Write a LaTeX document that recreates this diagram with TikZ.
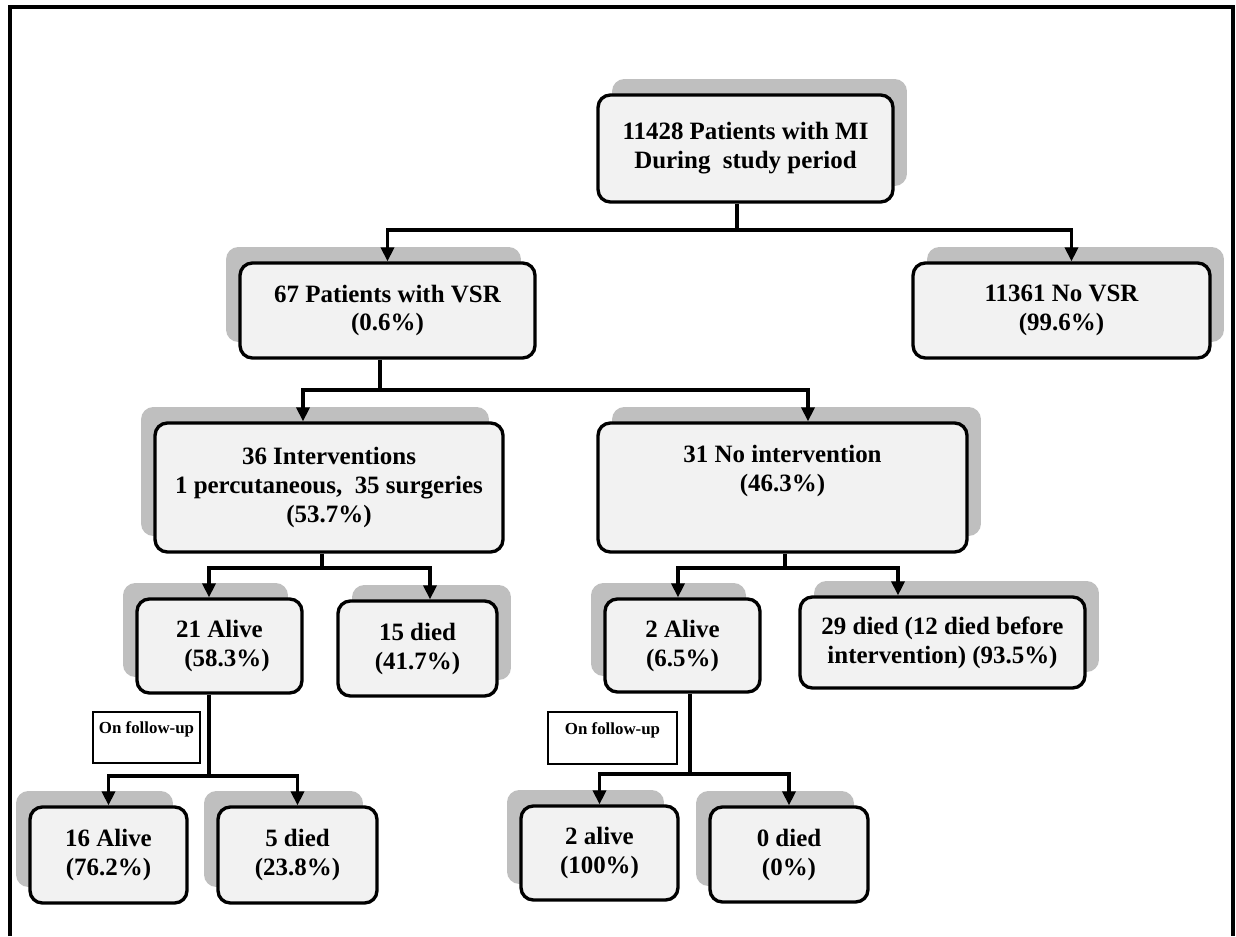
\documentclass[tikz,border=0pt]{standalone}
\usepackage{fontspec}
\setmainfont{Liberation Serif}
\usetikzlibrary{arrows.meta, shadows}
\definecolor{BoxFill}{HTML}{F2F2F2}
\definecolor{ShadowGrey}{HTML}{BFBFBF}

\tikzset{
  box/.style={draw, line width=1.9pt, rounded corners=7pt, fill=BoxFill, align=center, font=\bfseries\fontsize{14.2}{16.5}\selectfont, inner sep=2pt},
  shadowleft/.style={general shadow={fill=ShadowGrey, shadow xshift=-0.28cm, shadow yshift=0.32cm}},
  shadowright/.style={general shadow={fill=ShadowGrey, shadow xshift=0.28cm, shadow yshift=0.32cm}},
  note/.style={draw, line width=0.8pt, fill=white, font=\bfseries\fontsize{9.6}{12}\selectfont, text depth=11pt, inner sep=0pt},
  link/.style={line width=1.8pt},
  arrowlink/.style={link, -{Triangle[length=8pt, width=7.5pt]}},
}

\begin{document}
\begin{tikzpicture}[x=0.02cm, y=-0.02cm]
  \useasboundingbox (0,0) rectangle (1236,936);
  \draw[line width=2.2pt] (10,936) -- (10,7) -- (1233,7) -- (1233,936);

  % boxes
  \node[box, shadowright, minimum width=5.9cm, minimum height=2.14cm] (total) at (745.5,148.5) {11428 Patients with MI\\During~ study period};
  \node[box, shadowleft, minimum width=5.9cm, minimum height=1.9cm] (vsr) at (387.5,310.5) {67 Patients with VSR\\(0.6\%)};
  \node[box, shadowright, minimum width=5.94cm, minimum height=1.9cm] (novsr) at (1061.5,310.5) {11361 No VSR\\(99.6\%)};
  \node[box, shadowleft, minimum width=6.96cm, minimum height=2.58cm] (interv) at (329,487.5) {36 Interventions\\1 percutaneous,~ 35 surgeries\\(53.7\%)};
  \node[box, shadowright, minimum width=7.38cm, minimum height=2.58cm] (nointerv) at (782.5,487.5) {31 No intervention\\(46.3\%)\\\strut};
  \node[box, shadowleft, minimum width=3.3cm, minimum height=1.88cm] (alivea) at (219.5,646) {21 Alive\\\hspace*{0.6em}(58.3\%)};
  \node[box, shadowright, minimum width=3.18cm, minimum height=1.9cm] (dieda) at (417.5,648.5) {15 died\\(41.7\%)};
  \node[box, shadowleft, minimum width=3.1cm, minimum height=1.86cm] (aliveb) at (682.5,645.5) {2 Alive\\(6.5\%)};
  \node[box, shadowright, minimum width=5.7cm, minimum height=1.82cm] (diedb) at (942.5,642.5) {29 died (12 died before\\intervention) (93.5\%)};
  \node[note, minimum width=2.14cm, minimum height=1.02cm] (followa) at (146.5,737.5) {On follow-up};
  \node[note, minimum width=2.58cm, minimum height=1.04cm] (followb) at (612.5,738) {On follow-up};
  \node[box, shadowleft, minimum width=3.14cm, minimum height=1.92cm] (alivec) at (108.5,855) {16 Alive\\(76.2\%)};
  \node[box, shadowleft, minimum width=3.18cm, minimum height=1.92cm] (diedc) at (297.5,855) {5 died\\(23.8\%)};
  \node[box, shadowleft, minimum width=3.14cm, minimum height=1.88cm] (alived) at (599.5,853) {2 alive\\(100\%)};
  \node[box, shadowleft, minimum width=3.16cm, minimum height=1.9cm] (diedd) at (789,854.5) {0 died\\(0\%)};

  % connectors
  \coordinate (splittop) at (737,230);
  \draw[link] (total.south -| splittop) -- (splittop);
  \draw[arrowlink] (splittop) -| (vsr.north);
  \draw[arrowlink] (splittop) -| ([xshift=0.2cm]novsr.north);

  \coordinate (splitvsr) at (380,390);
  \draw[link] (vsr.south -| splitvsr) -- (splitvsr);
  \draw[arrowlink] (splitvsr) -| ([xshift=-0.52cm]interv.north);
  \draw[arrowlink] (splitvsr) -| ([xshift=0.51cm]nointerv.north);

  \coordinate (splitint) at (322,568);
  \draw[link] (interv.south -| splitint) -- (splitint);
  \draw[arrowlink] (splitint) -| ([xshift=-0.21cm]alivea.north);
  \draw[arrowlink] (splitint) -| ([xshift=0.25cm]dieda.north);

  \coordinate (splitnoint) at (785,568);
  \draw[link] (nointerv.south -| splitnoint) -- (splitnoint);
  \draw[arrowlink] (splitnoint) -| ([xshift=-0.09cm]aliveb.north);
  \draw[arrowlink] (splitnoint) -| ([xshift=-0.89cm]diedb.north);

  \coordinate (splitalive) at (209,776);
  \draw[link] (alivea.south -| splitalive) -- (splitalive);
  \draw[arrowlink] (splitalive) -| (alivec.north);
  \draw[arrowlink] (splitalive) -| (diedc.north);

  \coordinate (splitaliveb) at (690,774);
  \draw[link] (aliveb.south -| splitaliveb) -- (splitaliveb);
  \draw[arrowlink] (splitaliveb) -| (alived.north);
  \draw[arrowlink] (splitaliveb) -| (diedd.north);
\end{tikzpicture}
\end{document}
